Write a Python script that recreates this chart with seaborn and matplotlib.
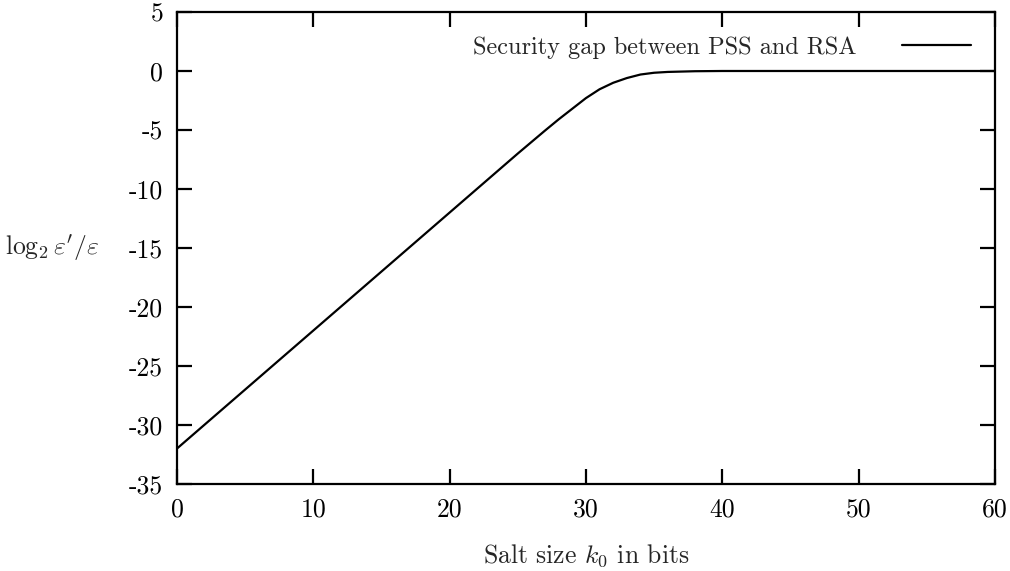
import matplotlib
matplotlib.use("Agg")
import matplotlib.pyplot as plt
import seaborn as sns
import pandas as pd

# values
salt_bits = [0, 5, 10, 15, 20, 25, 27, 28, 29, 30, 31, 32, 33, 34, 35, 36, 38, 40, 45, 50, 55, 60]
gap_log2 = [-32.0, -27.0, -22.0, -17.0, -12.0, -7.0, -5.05, -4.1, -3.2, -2.3, -1.55, -1.0, -0.6, -0.3, -0.15, -0.08, -0.02, 0.0, 0.0, 0.0, 0.0, 0.0]
x_ticks = [0, 10, 20, 30, 40, 50, 60]
y_ticks = [5, 0, -5, -10, -15, -20, -25, -30, -35]
series_label = "Security gap between PSS and RSA"

df = pd.DataFrame({"k0": salt_bits, "gap": gap_log2, "series": series_label})

sns.set_theme(style="ticks")
plt.rcParams["font.family"] = ["cmr10", "DejaVu Serif"]
plt.rcParams["mathtext.fontset"] = "cm"
plt.rcParams["axes.unicode_minus"] = False
plt.rcParams["axes.formatter.use_mathtext"] = True

fig = plt.figure(figsize=(10.1, 5.71), dpi=100)
ax = fig.add_axes([0.1752, 0.1524, 0.8098, 0.8266])

sns.lineplot(data=df, x="k0", y="gap", hue="series", palette=["black"],
             linewidth=1.6, ax=ax)

ax.set_xlim(0, 60)
ax.set_ylim(-35, 5)
ax.set_xticks(x_ticks)
ax.set_yticks(y_ticks)
ax.set_xticklabels([str(t) for t in x_ticks])
ax.set_yticklabels([str(t) for t in y_ticks])
ax.tick_params(direction="in", length=11, width=1.6, top=True, right=True,
               labelsize=18.5, pad=10, colors="black")
for s in ax.spines.values():
    s.set_linewidth(1.6)
    s.set_color("black")

ax.set_xlabel(r"Salt size $k_0$ in bits", fontsize=18.5, labelpad=15)
ax.set_ylabel(r"$\log_2\varepsilon'/\varepsilon$", fontsize=18.5, rotation=0,
              ha="center", va="center")
ax.yaxis.set_label_coords(-0.153, 0.5)

leg = ax.legend(loc="upper right", frameon=False, markerfirst=False,
                fontsize=17.5, handlelength=2.8, handletextpad=1.9,
                borderaxespad=0.6)
leg.set_title(None)

fig.savefig("out.png", dpi=100)
